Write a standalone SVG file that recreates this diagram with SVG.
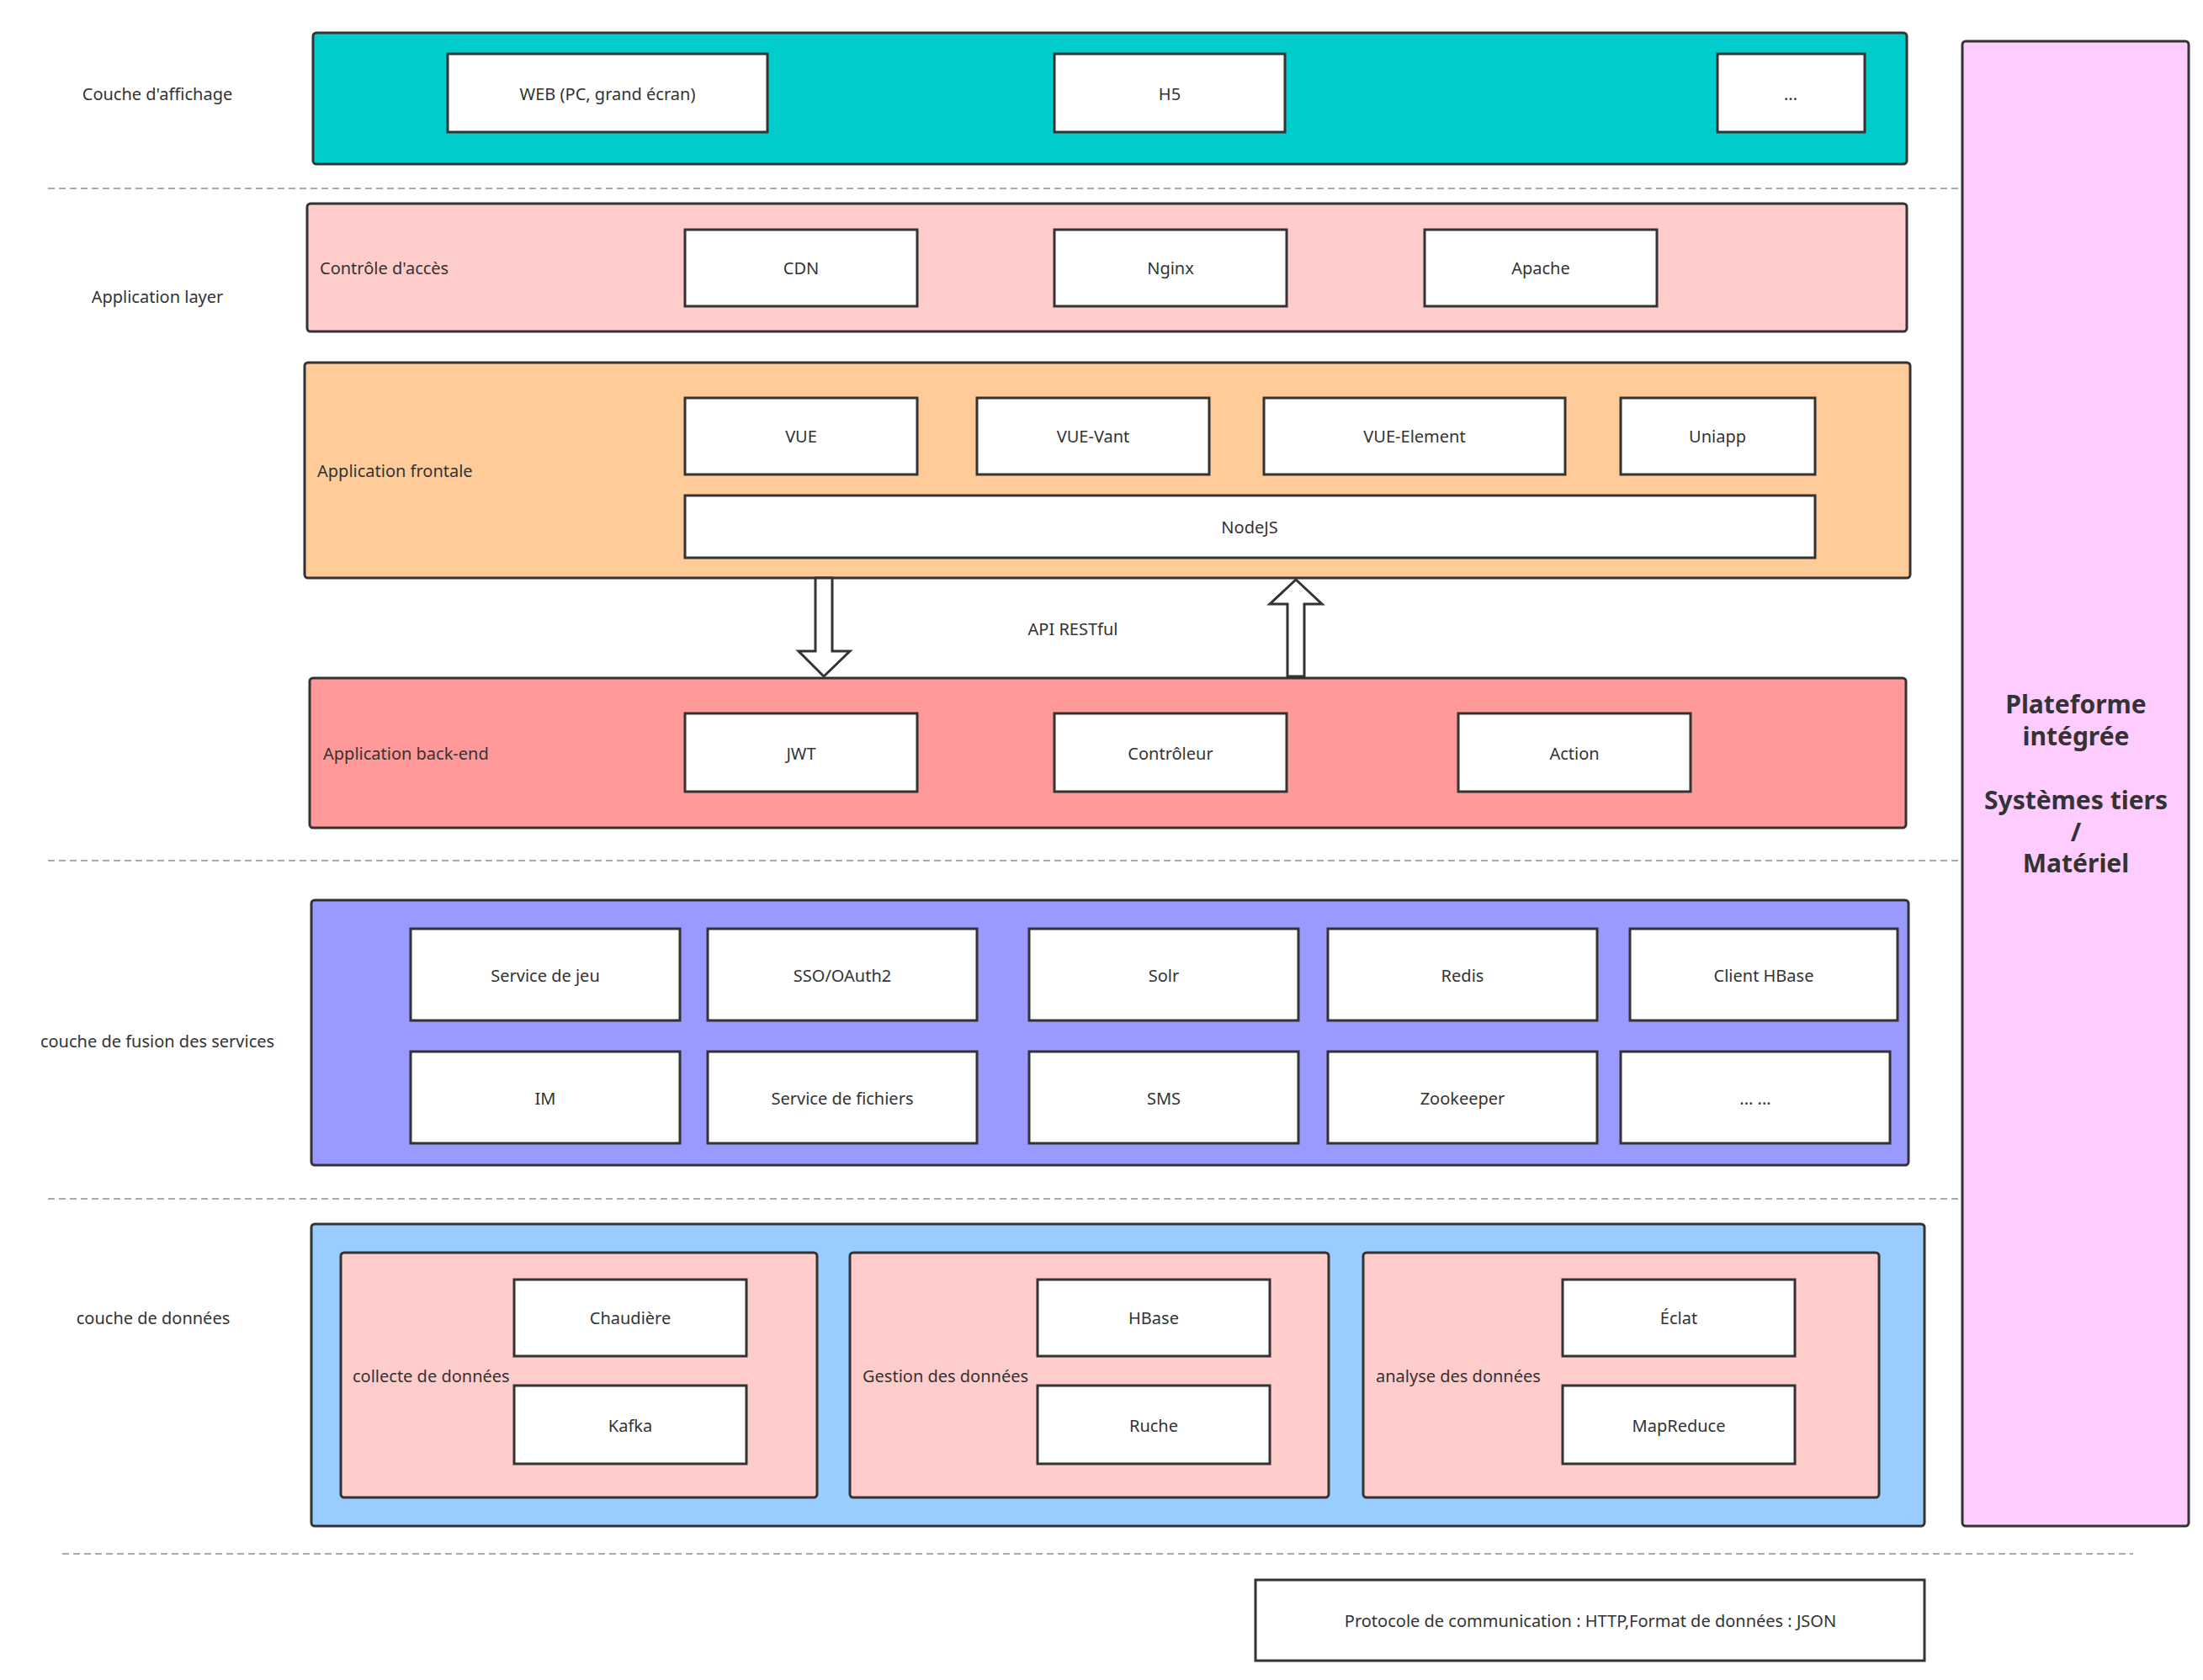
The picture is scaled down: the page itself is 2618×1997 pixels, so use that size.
<svg xmlns="http://www.w3.org/2000/svg" width="2618" height="1997" viewBox="0 0 2618 1997">
<style>
text{font-family:"Noto Sans","Liberation Sans",sans-serif;font-size:20px;fill:#333}
.c{text-anchor:middle;dominant-baseline:central}
.l{dominant-baseline:central}
.b{fill:#fff;stroke:#333;stroke-width:3}
.g{stroke:#333;stroke-width:3}
.d{stroke:#aaa;stroke-width:2;stroke-dasharray:8 5;fill:none}
.t{font-size:30px;font-weight:bold;text-anchor:middle;fill:#333}
</style>
<rect width="2618" height="1997" fill="#fff"/>
<g id="separators">
<line class="d" x1="57" y1="224" x2="2330" y2="224"/>
<line class="d" x1="57" y1="1023" x2="2330" y2="1023"/>
<line class="d" x1="57" y1="1425" x2="2330" y2="1425"/>
<line class="d" x1="74" y1="1847" x2="2535" y2="1847"/>
</g>
<g id="labels">
<text class="c" x="187" y="111">Couche d'affichage</text>
<text class="c" x="187" y="352">Application layer</text>
<text class="c" x="187" y="1237">couche de fusion des services</text>
<text class="c" x="182" y="1566">couche de données</text>
</g>
<g id="display">
<rect class="g" x="372" y="39" width="1894" height="156" rx="4" fill="#00CCCC"/>
<rect class="b" x="532" y="64" width="380" height="93"/><text class="c" x="722" y="111">WEB (PC, grand écran)</text>
<rect class="b" x="1253" y="64" width="274" height="93"/><text class="c" x="1390" y="111">H5</text>
<rect class="b" x="2041" y="64" width="175" height="93"/><text class="c" x="2128" y="111">...</text>
</g>
<g id="access">
<rect class="g" x="365" y="242" width="1901" height="152" rx="4" fill="#FFCCCC"/>
<text class="l" x="380" y="318">Contrôle d'accès</text>
<rect class="b" x="814" y="273" width="276" height="91"/><text class="c" x="952" y="318">CDN</text>
<rect class="b" x="1253" y="273" width="276" height="91"/><text class="c" x="1391" y="318">Nginx</text>
<rect class="b" x="1693" y="273" width="276" height="91"/><text class="c" x="1831" y="318">Apache</text>
</g>
<g id="frontend">
<rect class="g" x="362" y="431" width="1908" height="256" rx="4" fill="#FFCC99"/>
<text class="l" x="377" y="559">Application frontale</text>
<rect class="b" x="814" y="473" width="276" height="91"/><text class="c" x="952" y="518">VUE</text>
<rect class="b" x="1161" y="473" width="276" height="91"/><text class="c" x="1299" y="518">VUE-Vant</text>
<rect class="b" x="1502" y="473" width="358" height="91"/><text class="c" x="1681" y="518">VUE-Element</text>
<rect class="b" x="1926" y="473" width="231" height="91"/><text class="c" x="2041" y="518">Uniapp</text>
<rect class="b" x="814" y="589" width="1343" height="74"/><text class="c" x="1485" y="626">NodeJS</text>
</g>
<g id="connectors">
<polygon class="b" points="969,687 989,687 989,774 1010,774 979,804 949,774 969,774"/>
<polygon class="b" points="1530,804 1550,804 1550,718 1571,718 1540,689 1509,718 1530,718"/>
<text class="c" x="1275" y="747">API RESTful</text>
</g>
<g id="backend">
<rect class="g" x="368" y="806" width="1897" height="178" rx="4" fill="#FF9999"/>
<text class="l" x="384" y="895">Application back-end</text>
<rect class="b" x="814" y="848" width="276" height="93"/><text class="c" x="952" y="895">JWT</text>
<rect class="b" x="1253" y="848" width="276" height="93"/><text class="c" x="1391" y="895">Contrôleur</text>
<rect class="b" x="1733" y="848" width="276" height="93"/><text class="c" x="1871" y="895">Action</text>
</g>
<g id="services">
<rect class="g" x="370" y="1070" width="1898" height="315" rx="4" fill="#9999FF"/>
<rect class="b" x="488" y="1104" width="320" height="109"/><text class="c" x="648" y="1159">Service de jeu</text>
<rect class="b" x="841" y="1104" width="320" height="109"/><text class="c" x="1001" y="1159">SSO/OAuth2</text>
<rect class="b" x="1223" y="1104" width="320" height="109"/><text class="c" x="1383" y="1159">Solr</text>
<rect class="b" x="1578" y="1104" width="320" height="109"/><text class="c" x="1738" y="1159">Redis</text>
<rect class="b" x="1937" y="1104" width="318" height="109"/><text class="c" x="2096" y="1159">Client HBase</text>
<rect class="b" x="488" y="1250" width="320" height="109"/><text class="c" x="648" y="1305">IM</text>
<rect class="b" x="841" y="1250" width="320" height="109"/><text class="c" x="1001" y="1305">Service de fichiers</text>
<rect class="b" x="1223" y="1250" width="320" height="109"/><text class="c" x="1383" y="1305">SMS</text>
<rect class="b" x="1578" y="1250" width="320" height="109"/><text class="c" x="1738" y="1305">Zookeeper</text>
<rect class="b" x="1926" y="1250" width="320" height="109"/><text class="c" x="2086" y="1305">... ...</text>
</g>
<g id="data">
<rect class="g" x="370" y="1455" width="1917" height="359" rx="4" fill="#99CCFF"/>
<rect class="g" x="405" y="1489" width="566" height="291" rx="4" fill="#FFCCCC"/>
<rect class="g" x="1010" y="1489" width="569" height="291" rx="4" fill="#FFCCCC"/>
<rect class="g" x="1620" y="1489" width="613" height="291" rx="4" fill="#FFCCCC"/>
<text class="l" x="419" y="1635">collecte de données</text>
<text class="l" x="1025" y="1635">Gestion des données</text>
<text class="l" x="1635" y="1635">analyse des données</text>
<rect class="b" x="611" y="1521" width="276" height="91"/><text class="c" x="749" y="1566">Chaudière</text>
<rect class="b" x="611" y="1647" width="276" height="93"/><text class="c" x="749" y="1694">Kafka</text>
<rect class="b" x="1233" y="1521" width="276" height="91"/><text class="c" x="1371" y="1566">HBase</text>
<rect class="b" x="1233" y="1647" width="276" height="93"/><text class="c" x="1371" y="1694">Ruche</text>
<rect class="b" x="1857" y="1521" width="276" height="91"/><text class="c" x="1995" y="1566">Éclat</text>
<rect class="b" x="1857" y="1647" width="276" height="93"/><text class="c" x="1995" y="1694">MapReduce</text>
</g>
<g id="platform">
<rect class="g" x="2332" y="49" width="269" height="1765" rx="4" fill="#FFCCFF"/>
<text class="t" x="2467" y="848">Plateforme</text>
<text class="t" x="2467" y="886">intégrée</text>
<text class="t" x="2467" y="962">Systèmes tiers</text>
<text class="t" x="2467" y="1000">/</text>
<text class="t" x="2467" y="1037">Matériel</text>
</g>
<g id="protocol">
<rect class="b" x="1492" y="1878" width="795" height="96"/>
<text class="c" x="1890" y="1926">Protocole de communication : HTTP,Format de données : JSON</text>
</g>
</svg>
